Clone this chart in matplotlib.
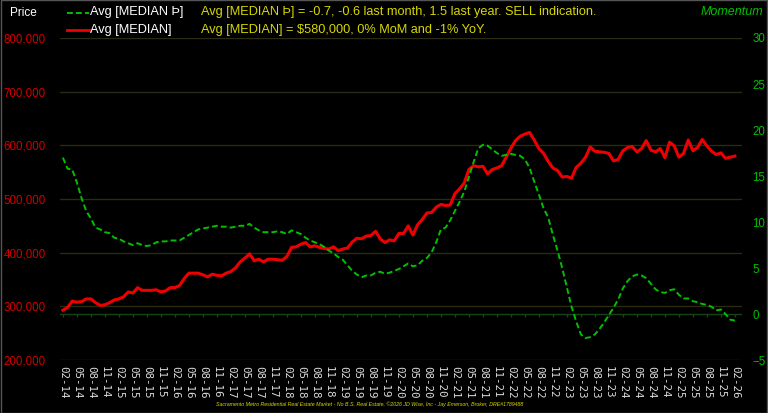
import matplotlib.pyplot as plt
from matplotlib.lines import Line2D
from matplotlib.patches import Rectangle
from matplotlib.ticker import FuncFormatter

# monthly data, Feb 2014 .. Feb 2026
median_price = [
    293, 298, 310, 308, 309, 314, 314, 307, 302, 303, 307, 312,
    314, 318, 327, 325, 335, 330, 330, 330, 331, 327, 329, 335,
    335, 339, 352, 362, 362, 362, 359, 355, 360, 358, 357, 362,
    365, 372, 383, 390, 398, 385, 388, 383, 388, 388, 387, 386,
    393, 410, 411, 416, 419, 411, 413, 410, 408, 407, 411, 404,
    407, 409, 420, 427, 426, 431, 432, 440, 426, 419, 424, 422,
    436, 436, 450, 433, 452, 462, 474, 475, 485, 490, 488, 489,
    510, 519, 530, 555, 562, 560, 561, 547, 555, 558, 562, 578,
    595, 609, 617, 621, 624, 610, 594, 585, 570, 558, 553, 541,
    542, 539, 559, 567, 578, 597, 589, 588, 587, 585, 571, 574,
    590, 596, 598, 588, 594, 609, 591, 588, 594, 577, 606, 599,
    578, 585, 610, 590, 596, 611, 599, 589, 583, 586, 576, 578,
    580,
]
median_price = [v * 1000 for v in median_price]

momentum = [
    17.0, 15.8, 15.7, 14.3, 12.6, 11.2, 10.4, 9.4, 9.2, 8.9, 8.8, 8.3,
    8.2, 7.9, 7.7, 7.5, 7.7, 7.5, 7.4, 7.5, 7.8, 7.9, 7.9, 8.0,
    8.0, 8.0, 8.3, 8.6, 8.9, 9.2, 9.3, 9.4, 9.5, 9.6, 9.5, 9.5,
    9.4, 9.5, 9.6, 9.6, 9.8, 9.4, 9.1, 8.9, 8.9, 8.9, 9.0, 8.9,
    8.7, 9.1, 8.9, 8.7, 8.3, 8.0, 7.8, 7.6, 7.3, 6.9, 6.6, 6.2,
    5.9, 5.3, 4.7, 4.3, 4.0, 4.2, 4.2, 4.5, 4.6, 4.4, 4.5, 4.7,
    4.9, 5.2, 5.5, 5.2, 5.3, 5.8, 6.1, 6.7, 7.8, 9.2, 9.4, 10.2,
    11.2, 12.2, 13.3, 14.9, 16.5, 18.0, 18.4, 18.3, 17.9, 17.5, 17.2, 17.3,
    17.4, 17.3, 17.2, 16.8, 15.9, 14.4, 13.0, 11.5, 10.5, 8.6, 6.9, 5.0,
    2.9, 0.8, -0.8, -2.2, -2.6, -2.5, -2.2, -1.6, -0.9, -0.1, 0.7, 1.6,
    2.8, 3.6, 4.1, 4.3, 4.2, 3.9, 3.3, 2.7, 2.4, 2.3, 2.6, 2.7,
    2.1, 1.7, 1.7, 1.4, 1.3, 1.1, 1.0, 0.8, 0.4, 0.5, 0.0, -0.6,
    -0.7,
]

months = ["02", "05", "08", "11"]
years = list(range(14, 27))
tick_labels = [f"{m}-{y:02d}" for y in years for m in months][:49]

price_ticks = [200000, 300000, 400000, 500000, 600000, 700000, 800000]
momentum_ticks = [-5, 0, 5, 10, 15, 20, 25, 30]

x = list(range(len(median_price)))
tick_pos = list(range(0, len(median_price), 3))

plt.rcParams["font.family"] = ["Liberation Sans", "DejaVu Sans"]

fig = plt.figure(figsize=(7.68, 4.13), dpi=100, facecolor="black")
ax = fig.add_axes([0.078, 0.128, 0.888, 0.78])
ax.set_facecolor("black")
ax2 = ax.twinx()

for a in (ax, ax2):
    for s in a.spines.values():
        s.set_visible(False)

ax.set_ylim(200000, 800000)
ax.set_yticks(price_ticks)
ax.yaxis.set_major_formatter(FuncFormatter(lambda v, p: f"{int(v):,}"))
ax.tick_params(axis="y", colors="#d00000", labelsize=8.3, length=0, pad=10)
ax.grid(axis="y", color="#2b2b12", lw=1)
ax.set_axisbelow(True)

ax.set_xlim(-0.64, 145.5)
ax.set_xticks(tick_pos)
ax.set_xticklabels(tick_labels, rotation=270, family="DejaVu Sans Mono",
                   fontsize=7.8, color="#dcdcdc")
ax.tick_params(axis="x", length=0, pad=4)

ax2.set_ylim(-5, 30)
ax2.set_yticks(momentum_ticks)
ax2.tick_params(axis="y", colors="#00c000", labelsize=8.3, length=0, pad=7.5)

# momentum zero line with quarterly ticks
ax2.axhline(0, color="#174417", lw=1)
ax2.vlines(tick_pos, -0.35, 0, color="#174417", lw=1)

ax.plot(x, median_price, color="#ee0000", lw=2.2, zorder=3)
ax2.plot(x, momentum, color="#00c000", lw=1.4, dashes=(3, 1.6), zorder=4)

# legend and header
fig.text(23 / 768, 1 - 13 / 413, "Price", color="white", fontsize=8.5,
         ha="center", va="center")
fig.text(732 / 768, 1 - 12 / 413, "Momentum", color="#00c000", fontsize=9,
         style="italic", ha="center", va="center")

fig.add_artist(Line2D([67 / 768, 89 / 768], [1 - 12.5 / 413] * 2,
                      color="#00c000", lw=1.4, dashes=(3, 1.6)))
fig.add_artist(Line2D([67 / 768, 89 / 768], [1 - 30 / 413] * 2,
                      color="#ee0000", lw=2))
fig.text(90 / 768, 1 - 12.5 / 413, "Avg [MEDIAN Þ]", color="white",
         fontsize=9.2, va="center")
fig.text(90 / 768, 1 - 30 / 413, "Avg [MEDIAN]", color="white",
         fontsize=9.2, va="center")

yellow = "#d8d800"
fig.text(201 / 768, 1 - 12.5 / 413,
         "Avg [MEDIAN Þ] = -0.7, -0.6 last month, 1.5 last year. SELL indication.",
         color=yellow, fontsize=9.2, va="center")
fig.text(201 / 768, 1 - 30 / 413,
         "Avg [MEDIAN] = $580,000, 0% MoM and -1% YoY.",
         color=yellow, fontsize=9.2, va="center")

fig.text(370 / 768, 1 - 404 / 413,
         "Sacramento Metro Residential Real Estate Market - No B.S. Real Estate, "
         "©2026 JD Wise, Inc - Jay Emerson, Broker, DRE#1789488",
         color=yellow, fontsize=3.8, style="italic", ha="center", va="center")

fig.add_artist(Rectangle((0.001, 0.001), 0.998, 0.998, transform=fig.transFigure,
                         fill=False, edgecolor="#555555", lw=1))

fig.savefig("out.png", dpi=100, facecolor="black")
